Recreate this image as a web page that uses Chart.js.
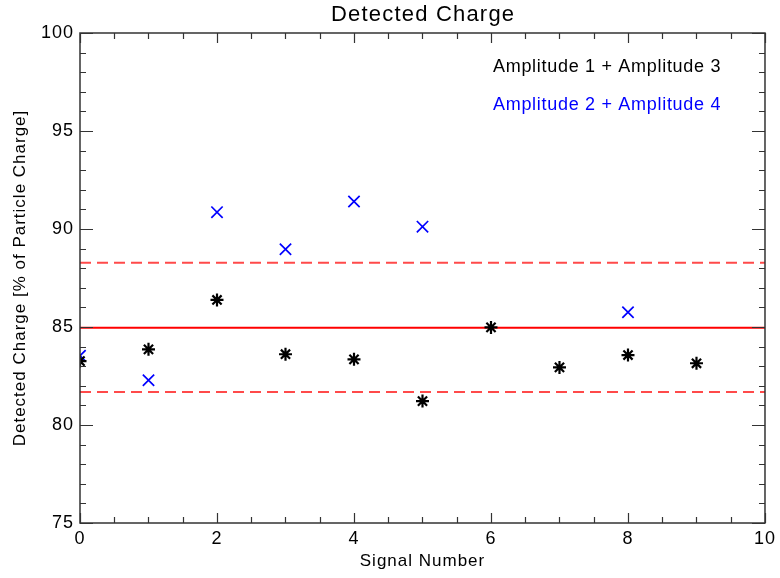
<!DOCTYPE html>
<html><head><meta charset="utf-8">
<script src="https://cdn.jsdelivr.net/npm/chart.js@4"></script>
<style>html,body{margin:0;padding:0;background:#fff;}#wrap{width:780px;height:578px;}</style>
</head><body><div id="wrap"><canvas id="c" width="780" height="578"></canvas></div>
<script>
// ---- data ----
const signalNumbers = [0, 1, 2, 3, 4, 5, 6, 7, 8, 9];
const amp13 = [83.26, 83.86, 86.38, 83.61, 83.35, 81.22, 84.98, 82.94, 83.57, 83.15];
const amp24Signals = [0, 1, 2, 3, 4, 5, 8];
const amp24 = [83.53, 82.28, 90.86, 88.97, 91.40, 90.12, 85.75];
const meanCharge = 84.96;
const bandUpper = 88.28;
const bandLower = 81.68;
const xRange = [0, 10];
const yRange = [75, 100];
const xMajorStep = 2, xMinorStep = 0.5;
const yMajorStep = 5, yMinorStep = 1;
const titleText = 'Detected Charge';
const xTitle = 'Signal Number';
const yTitle = 'Detected Charge [% of Particle Charge]';
const legendLabels = ['Amplitude 1 + Amplitude 3', 'Amplitude 2 + Amplitude 4'];
const legendColors = ['#000000', '#0000ff'];

const FONT = "'Liberation Sans', Arial, Helvetica, sans-serif";

const pts = (xs, ys) => xs.map((v, i) => ({x: v, y: ys[i]}));
const hline = (v) => [{x: xRange[0], y: v}, {x: xRange[1], y: v}];

const framePlugin = {
  id: 'frame',
  beforeDraw(chart) { chart.ctx.letterSpacing = '1px'; },
  afterDraw(chart) {
    const {ctx, chartArea: a, scales: {x, y}} = chart;
    ctx.save();
    ctx.letterSpacing = '0px';
    ctx.strokeStyle = '#333';
    ctx.lineWidth = 1.5;
    ctx.strokeRect(a.left, a.top, a.right - a.left, a.bottom - a.top);
    ctx.lineWidth = 1.2;
    ctx.beginPath();
    const nx = Math.round((xRange[1] - xRange[0]) / xMinorStep);
    for (let i = 0; i <= nx; i++) {
      const v = xRange[0] + i * xMinorStep;
      const px = Math.round(x.getPixelForValue(v)) + 0.5;
      const major = Math.abs(v / xMajorStep - Math.round(v / xMajorStep)) < 1e-9;
      const L = major ? 10 : 6;
      ctx.moveTo(px, a.bottom); ctx.lineTo(px, a.bottom - L);
      ctx.moveTo(px, a.top); ctx.lineTo(px, a.top + L);
    }
    const ny = Math.round((yRange[1] - yRange[0]) / yMinorStep);
    for (let i = 0; i <= ny; i++) {
      const v = yRange[0] + i * yMinorStep;
      const py = Math.round(y.getPixelForValue(v)) + 0.5;
      const major = Math.abs(v / yMajorStep - Math.round(v / yMajorStep)) < 1e-9;
      const L = major ? 13 : 6;
      ctx.moveTo(a.left, py); ctx.lineTo(a.left + L, py);
      ctx.moveTo(a.right, py); ctx.lineTo(a.right - L, py);
    }
    ctx.stroke();

    // title
    ctx.fillStyle = '#000';
    ctx.letterSpacing = '1.2px';
    ctx.font = '22px ' + FONT;
    ctx.textAlign = 'center';
    ctx.textBaseline = 'alphabetic';
    ctx.fillText(titleText, (a.left + a.right) / 2 + 0.6, 21);

    // legend text
    ctx.letterSpacing = '0.7px';
    ctx.font = '18px ' + FONT;
    ctx.textAlign = 'left';
    ctx.fillStyle = legendColors[0];
    ctx.fillText(legendLabels[0], 493, 72);
    ctx.fillStyle = legendColors[1];
    ctx.fillText(legendLabels[1], 493, 110);
    ctx.restore();
  }
};

new Chart(document.getElementById('c'), {
  type: 'scatter',
  data: {
    datasets: [
      {
        label: legendLabels[0],
        data: pts(signalNumbers, amp13),
        pointStyle: 'star',
        pointRadius: 6.5,
        borderColor: '#000',
        backgroundColor: '#000',
        pointBorderWidth: 2.2,
        borderWidth: 2.2,
        clip: 0
      },
      {
        label: legendLabels[1],
        data: pts(amp24Signals, amp24),
        pointStyle: 'crossRot',
        pointRadius: 8,
        borderColor: '#0000ff',
        backgroundColor: '#0000ff',
        pointBorderWidth: 1.7,
        borderWidth: 1.7,
        clip: 0
      },
      {
        label: 'mean',
        data: hline(meanCharge),
        showLine: true,
        pointRadius: 0,
        borderColor: '#ff0000',
        borderWidth: 2,
        clip: 0
      },
      {
        label: 'upper',
        data: hline(bandUpper),
        showLine: true,
        pointRadius: 0,
        borderColor: '#ff4a4a',
        borderWidth: 2,
        borderDash: [11, 6],
        clip: 0
      },
      {
        label: 'lower',
        data: hline(bandLower),
        showLine: true,
        pointRadius: 0,
        borderColor: '#ff4a4a',
        borderWidth: 2,
        borderDash: [11, 6],
        clip: 0
      }
    ]
  },
  options: {
    responsive: false,
    devicePixelRatio: 1,
    animation: false,
    layout: {padding: {top: 33, right: 11, left: 0, bottom: 0}},
    plugins: {legend: {display: false}, tooltip: {enabled: false}, title: {display: false}},
    scales: {
      x: {
        type: 'linear',
        min: xRange[0], max: xRange[1],
        grid: {display: false, drawTicks: false},
        border: {display: false},
        ticks: {stepSize: xMajorStep, color: '#000', font: {family: FONT, size: 18}, padding: 5, maxRotation: 0},
        title: {display: true, text: xTitle, color: '#000', font: {family: FONT, size: 17}, padding: {top: 0, bottom: 6}},
        afterFit(s) { s.height = 55; }
      },
      y: {
        type: 'linear',
        min: yRange[0], max: yRange[1],
        grid: {display: false, drawTicks: false},
        border: {display: false},
        ticks: {stepSize: yMajorStep, color: '#000', font: {family: FONT, size: 18}, padding: 6},
        title: {display: true, text: yTitle, color: '#000', font: {family: FONT, size: 17}, padding: {top: 10, bottom: 0}},
        afterFit(s) { s.width = 80; }
      }
    }
  },
  plugins: [framePlugin]
});
</script>
</body></html>
